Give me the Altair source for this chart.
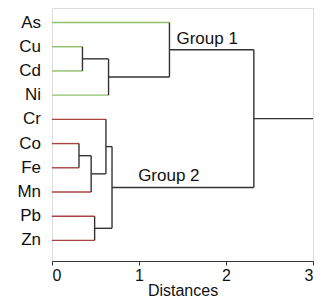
import altair as alt
import pandas as pd

leaves = ["As", "Cu", "Cd", "Ni", "Cr", "Co", "Fe", "Mn", "Pb", "Zn"]
leaf_group = ["Group 1"] * 4 + ["Group 2"] * 6
# merges: (left node, right node, distance); nodes 0-9 are leaves, 10+ clusters
merge_left = [1, 10, 0, 5, 13, 4, 8, 15, 12]
merge_right = [2, 3, 11, 6, 7, 14, 9, 16, 17]
merge_dist = [0.35, 0.65, 1.35, 0.31, 0.45, 0.62, 0.49, 0.69, 2.32]
root_tail = 3.0
group_names = ["Group 1", "Group 2"]
group_node = [12, 17]
group_label_x = [1.43, 0.99]

colors = {"Group 1": "#8fc06a", "Group 2": "#a8433f", "link": "#333333"}

# node positions
node_y = list(range(len(leaves)))
node_x = [0.0] * len(leaves)
for l, r, d in zip(merge_left, merge_right, merge_dist):
    node_y.append((node_y[l] + node_y[r]) / 2)
    node_x.append(d)

segs = []
for l, r, d in zip(merge_left, merge_right, merge_dist):
    for c in (l, r):
        kind = leaf_group[c] if c < len(leaves) else "link"
        segs.append(dict(x=node_x[c], x2=d, y=node_y[c], y2=node_y[c], kind=kind))
    segs.append(dict(x=d, x2=d, y=node_y[l], y2=node_y[r], kind="link"))
root = len(node_y) - 1
segs.append(dict(x=node_x[root], x2=root_tail, y=node_y[root], y2=node_y[root], kind="link"))
seg_df = pd.DataFrame(segs)

leaf_df = pd.DataFrame({"name": leaves, "y": node_y[: len(leaves)], "x": 0.0})
grp_df = pd.DataFrame({
    "name": group_names,
    "x": group_label_x,
    "y": [node_y[n] for n in group_node],
})

FONT = "Liberation Sans"
xscale = alt.Scale(domain=[0, 3], nice=False, zero=False)
yscale = alt.Scale(domain=[-0.6, 9.85], nice=False, zero=False, reverse=True)

lines = alt.Chart(seg_df).mark_rule(strokeWidth=1.4).encode(
    x=alt.X("x:Q", scale=xscale, axis=alt.Axis(
        values=[0, 1, 2, 3], format="d", title="Distances", grid=False,
        domainColor="#333333", tickColor="#333333", tickSize=4,
        labelFontSize=16, labelFont=FONT, labelColor="#111111", labelPadding=2,
        titleFontSize=16, titleFont=FONT, titleFontWeight="normal",
        titleColor="#111111", titlePadding=-1)),
    x2="x2:Q",
    y=alt.Y("y:Q", scale=yscale, axis=None),
    y2="y2:Q",
    color=alt.Color("kind:N", scale=alt.Scale(domain=list(colors.keys()),
                                              range=list(colors.values())), legend=None),
)

leaf_text = alt.Chart(leaf_df).mark_text(
    align="right", baseline="middle", dx=-11, fontSize=17, font=FONT, color="#111111"
).encode(x=alt.X("x:Q", scale=xscale), y=alt.Y("y:Q", scale=yscale), text="name:N")

grp_text = alt.Chart(grp_df).mark_text(
    align="left", baseline="alphabetic", dy=-6, fontSize=17, font=FONT, color="#111111"
).encode(x=alt.X("x:Q", scale=xscale), y=alt.Y("y:Q", scale=yscale), text="name:N")

chart = alt.layer(lines, leaf_text, grp_text).properties(
    width=261, height=253,
    autosize=alt.AutoSizeParams(type="none"),
    padding={"left": 44, "top": 0, "right": 5, "bottom": 41},
).configure_view(stroke=None).configure(background="white")

chart.save("out.html", embed_options={"renderer": "svg", "actions": False})
